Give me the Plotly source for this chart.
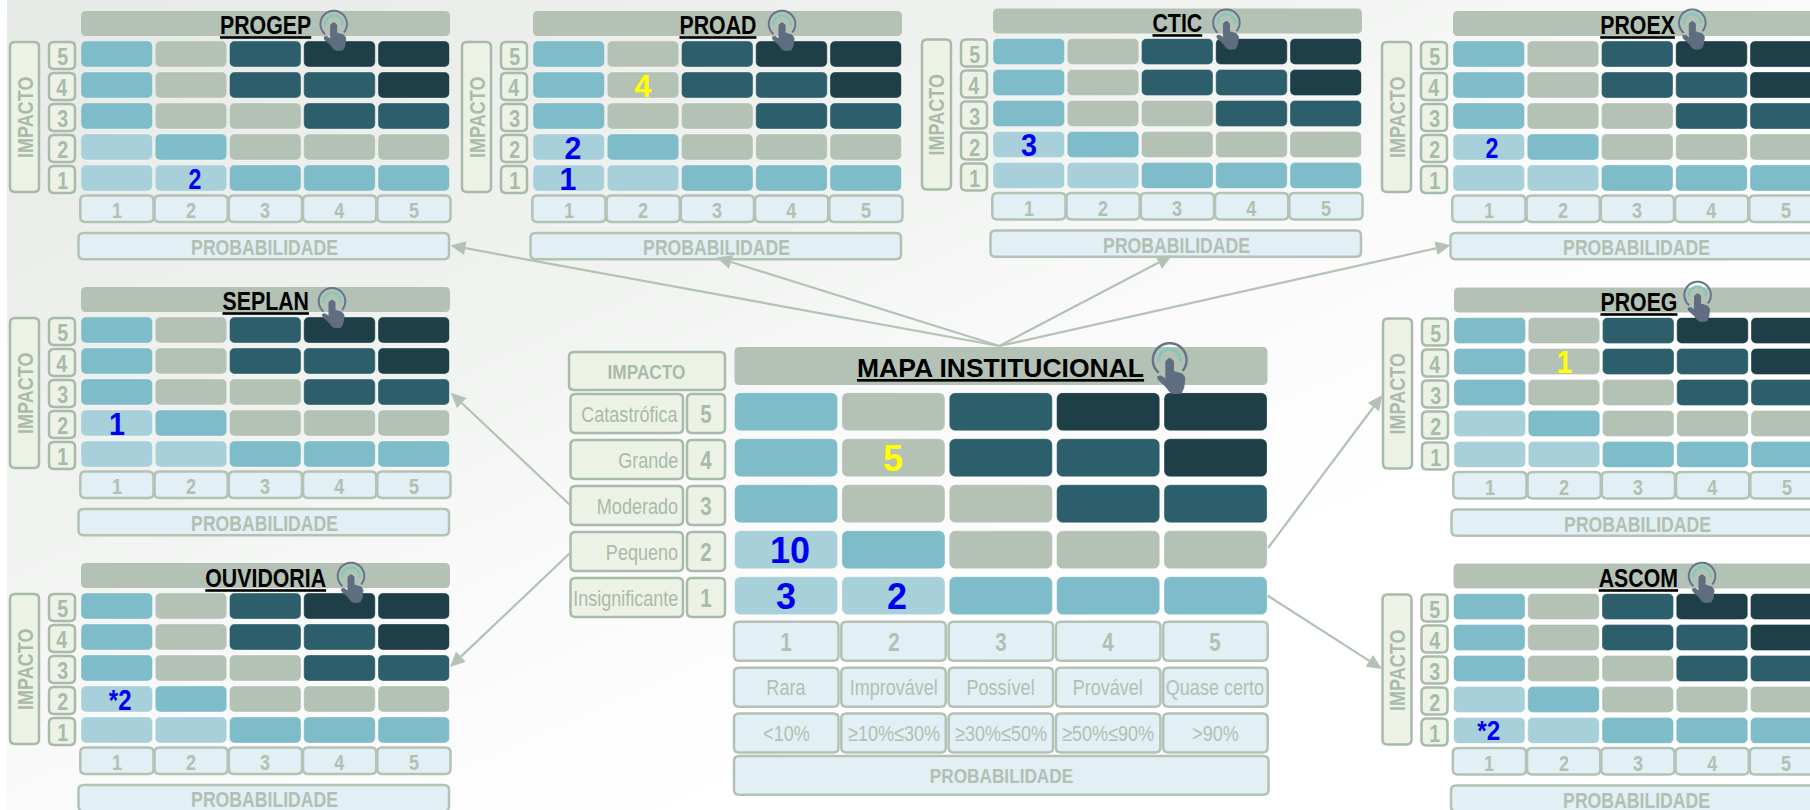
import json
import math
import plotly.graph_objects as go

W, H = 1810, 810
FONT = "Liberation Sans, Arial, sans-serif"

# risk matrix, top row is impact 5
risk_rows = [5, 4, 3, 2, 1]
risk_cols = [1, 2, 3, 4, 5]
risk_levels = [
    ["medio", "alto", "extremo", "critico", "critico"],
    ["medio", "alto", "extremo", "extremo", "critico"],
    ["medio", "alto", "alto", "extremo", "extremo"],
    ["baixo", "medio", "alto", "alto", "alto"],
    ["baixo", "baixo", "medio", "medio", "medio"],
]
level_colors = {"baixo": "#a7d0da", "medio": "#7dbcc8", "alto": "#b3c2b5",
                "extremo": "#2c5f6b", "critico": "#1e3f48"}

# counts per sector: (probabilidade, impacto, label)
counts_progep = [(2, 1, "2")]
counts_proad = [(2, 4, "4"), (1, 2, "2"), (1, 1, "1")]
counts_ctic = [(1, 2, "3")]
counts_proex = [(1, 2, "2")]
counts_seplan = [(1, 2, "1")]
counts_proeg = [(2, 4, "1")]
counts_ouvidoria = [(1, 2, "*2")]
counts_ascom = [(1, 1, "*2")]
counts_mapa = [(2, 4, "5"), (1, 2, "10"), (1, 1, "3"), (2, 1, "2")]
mapa_text_shift = [0, 4, 0, 4]

impact_names = ["Catastrófica", "Grande", "Moderado", "Pequeno", "Insignificante"]
prob_names = ["Rara", "Improvável", "Possível", "Provável", "Quase certo"]
prob_ranges = ["<10%", "≥10%≤30%", "≥30%≤50%", "≥50%≤90%", ">90%"]

# name, left, top, title centre y, icon centre x, icon centre y, counts
panels = [
    ("PROGEP", 81, 11, 25, 333.7, 24, counts_progep),
    ("PROAD", 533, 11, 25, 782, 24, counts_proad),
    ("CTIC", 993, 8.5, 23, 1226.4, 22.7, counts_ctic),
    ("PROEX", 1453, 11, 25, 1692.3, 22.7, counts_proex),
    ("SEPLAN", 81, 287, 300.5, 332, 301.3, counts_seplan),
    ("PROEG", 1454, 287.5, 301.5, 1697.6, 295, counts_proeg),
    ("OUVIDORIA", 81, 563, 577.5, 351, 576, counts_ouvidoria),
    ("ASCOM", 1453.5, 563.5, 577.5, 1702, 576, counts_ascom),
]
# text style of the counts in each small matrix: font size, side squeeze, x shift per count
count_style = {
    "PROGEP": (29, 0.8, [4]), "PROAD": (32, 0.95, [0, 4, -1]), "CTIC": (32, 0.9, [0]), "PROEX": (29, 0.8, [3]),
    "SEPLAN": (32, 0.9, [0]), "PROEG": (31, 0.9, [0]), "OUVIDORIA": (30, 0.8, [3]), "ASCOM": (27, 0.9, [0]),
}

# arrows: start, tip
arrows = [
    ((999.4, 346), (450.5, 245.5)),
    ((999.4, 346), (716.7, 257.5)),
    ((999.4, 346), (1172, 255.5)),
    ((999.4, 346), (1450.7, 245)),
    ((570, 505), (450.8, 392.7)),
    ((570, 553), (450, 667)),
    ((1268, 548), (1382.5, 395)),
    ((1267.5, 595.5), (1382, 669)),
]

GRAY = "#b3c2b5"
GRAY_TXT = "#b1c0b3"
GREEN_TXT = "#a9baab"
GREEN_BORDER = "#a8baaa"
GREEN_FILL = "#ecf3e6"
BLUE_FILL = "#e2eff4"

shapes = []
annots = []
squeezes = []
right_side = []


def rrect(x0, y0, x1, y1, fill, line=None, lw=2.5, r=5):
    path = (f"M{x0+r},{y0} L{x1-r},{y0} Q{x1},{y0} {x1},{y0+r} L{x1},{y1-r} Q{x1},{y1} {x1-r},{y1} "
            f"L{x0+r},{y1} Q{x0},{y1} {x0},{y1-r} L{x0},{y0+r} Q{x0},{y0} {x0+r},{y0} Z")
    shapes.append(dict(type="path", path=path, xref="x", yref="y", fillcolor=fill,
                       line=dict(color=line if line else fill, width=lw if line else 0), layer="above"))


def label(x, y, text, size, bold=True, color=GRAY_TXT, anchor="center", angle=0, squeeze=0.82,
          xref="x", yref="y", xshift=0, yshift=0):
    t = f"<b>{text}</b>" if bold else text
    annots.append(dict(x=x, y=y, xref=xref, yref=yref, text=t, showarrow=False, xanchor=anchor, yanchor="middle",
                       textangle=angle, xshift=xshift, yshift=yshift, font=dict(family=FONT, size=size, color=color)))
    squeezes.append(squeeze)
    right_side.append(anchor == "right")


def arc(cx, cy, r, a0, a1, color, width):
    pts = []
    for i in range(25):
        a = math.radians(a0 + (a1 - a0) * i / 24)
        pts.append(f"{cx + r*math.cos(a):.2f},{cy + r*math.sin(a):.2f}")
    shapes.append(dict(type="path", path="M" + " L".join(pts), xref="x", yref="y",
                       line=dict(color=color, width=width), layer="above"))


def icon(cx, cy, s=1.0):
    arc(cx, cy, 13.3 * s, 130, 400, "#66768a", 2 * s)
    arc(cx, cy, 8.5 * s, 170, 370, "#86c7b9", 2.4 * s)
    hand = [(-3, 1), (-1, -1), (1, -1), (3, 1), (3, 9), (10, 11), (12, 14), (11, 22), (9, 26), (3, 26.5),
            (0, 25), (-3, 21), (-9, 15.5), (-9.5, 13), (-7, 12.5), (-3, 15)]
    pts = [f"{cx + px*s:.2f},{cy + py*s:.2f}" for px, py in hand]
    shapes.append(dict(type="path", path="M" + " L".join(pts) + " Z", xref="x", yref="y", fillcolor="#5f6d80",
                       line=dict(color="#5f6d80", width=1), layer="above"))


def arrow(start, tip):
    sx, sy = start
    tx, ty = tip
    d = math.hypot(tx - sx, ty - sy)
    ux, uy = (tx - sx) / d, (ty - sy) / d
    bx, by = tx - ux * 15, ty - uy * 15
    shapes.append(dict(type="line", x0=sx, y0=sy, x1=bx, y1=by, xref="x", yref="y",
                       line=dict(color=GRAY, width=2.2), layer="above"))
    shapes.append(dict(type="path", xref="x", yref="y", fillcolor=GRAY, line=dict(width=0), layer="above",
                       path=f"M{tx},{ty} L{bx - uy*7:.2f},{by + ux*7:.2f} L{bx + uy*7:.2f},{by - ux*7:.2f} Z"))


fig = go.Figure()

# background gradient on the full page axes
fig.add_trace(go.Heatmap(x=[0, W], y=[0, H], z=[[0, 0.5], [0.5, 1]], zsmooth="best", showscale=False, hoverinfo="skip",
                         zmin=0, zmax=1, colorscale=[[0, "#e6eae6"], [0.35, "#f1f3f1"], [0.5, "#f9faf9"],
                                                     [0.7, "#ffffff"], [1, "#ffffff"]]))
shapes.append(dict(type="rect", x0=0, x1=7, y0=0, y1=H, xref="x", yref="y", fillcolor="white",
                   line=dict(width=0), layer="above"))

layout_axes = {
    "xaxis": dict(domain=[0, 1], range=[0, W], visible=False, fixedrange=True),
    "yaxis": dict(domain=[0, 1], range=[H, 0], visible=False, fixedrange=True),
}


def matrix(idx, left, top, total_w, total_h, bar_w, bar_h, radius):
    # one subplot per matrix: columns and rows are real axis values
    right = min(left + total_w, W)
    lo = 1 - bar_w / 2
    hi = 5 + bar_w / 2
    end = lo + (hi - lo) * (right - left) / total_w
    name = str(idx)
    layout_axes["xaxis" + name] = dict(domain=[left / W, right / W], range=[lo, end], visible=False,
                                       anchor="y" + name, fixedrange=True)
    layout_axes["yaxis" + name] = dict(domain=[1 - (top + total_h) / H, 1 - top / H],
                                       range=[1 - bar_h / 2, 5 + bar_h / 2], visible=False,
                                       anchor="x" + name, fixedrange=True)
    xs, bases, colors = [], [], []
    for r, row in zip(risk_rows, risk_levels):
        for c, lev in zip(risk_cols, row):
            xs.append(c)
            bases.append(r - bar_h / 2)
            colors.append(level_colors[lev])
    fig.add_trace(go.Bar(x=xs, y=[bar_h] * len(xs), base=bases, width=bar_w, hoverinfo="skip",
                         marker=dict(color=colors, cornerradius=radius,
                                     line=dict(width=1, color="rgba(255,255,255,0.35)")),
                         xaxis="x" + name, yaxis="y" + name))


def count_labels(idx, counts, size, squeeze, shifts):
    for (c, r, txt), sh in zip(counts, shifts):
        color = "#ffff00" if risk_levels[risk_rows.index(r)][c - 1] == "alto" else "#0000f0"
        label(c, r, txt, size, color=color, squeeze=squeeze, xref=f"x{idx}", yref=f"y{idx}", xshift=sh, yshift=-1)


for i, (name, x0, y0, ty, ix, iy, counts) in enumerate(panels):
    rrect(x0, y0, x0 + 369, y0 + 25, GRAY)
    label(x0 + 184.5, ty, f"<u>{name}</u>", 26, color="#000000")
    matrix(i + 2, x0, y0 + 30, 368.5, 150, 0.963, 0.84, 5)
    size, sq, sh = count_style[name]
    count_labels(i + 2, counts, size, sq, sh)
    rrect(x0 - 71, y0 + 31, x0 - 42, y0 + 181, GREEN_FILL, GREEN_BORDER)
    label(x0 - 56, y0 + 107, "IMPACTO", 22, angle=-90, color=GREEN_TXT)
    for k, r in enumerate(risk_rows):
        ry = y0 + 31 + 31 * k
        rrect(x0 - 32, ry, x0 - 6, ry + 27, GREEN_FILL, GREEN_BORDER)
        label(x0 - 19, ry + 14.5, str(r), 24, color=GREEN_TXT)
    for k, c in enumerate(risk_cols):
        cx = x0 - 0.7 + 74.25 * k
        rrect(cx, y0 + 184.5, cx + 73.2, y0 + 211, BLUE_FILL, GRAY)
        label(cx + 36.6, y0 + 199.5, str(c), 22)
    rrect(x0 - 2.5, y0 + 222, x0 + 368, y0 + 248.3, BLUE_FILL, GRAY)
    label(x0 + 183, y0 + 237, "PROBABILIDADE", 21.5)
    icon(ix, iy)

# central map
rrect(734.5, 347, 1267.5, 385, GRAY)
label(1000.5, 367.5, "<u>MAPA INSTITUCIONAL</u>", 26.5, color="#000000", squeeze=1)
matrix(10, 734.5, 392.7, 532.6, 222, 0.96, 0.826, 6)
count_labels(10, counts_mapa, 36, 1, mapa_text_shift)
rrect(569, 352, 725, 390, GREEN_FILL, GREEN_BORDER)
label(646, 371, "IMPACTO", 21, color=GREEN_TXT)
for k, (r, nm) in enumerate(zip(risk_rows, impact_names)):
    ry = 394 + 46 * k
    rrect(570.5, ry, 683, ry + 39, GREEN_FILL, GREEN_BORDER)
    rrect(687, ry, 725, ry + 39, GREEN_FILL, GREEN_BORDER)
    label(680, ry + 20, nm, 22, bold=False, anchor="right", color=GREEN_TXT)
    label(706, ry + 20, str(r), 25, color=GREEN_TXT)
for k, c in enumerate(risk_cols):
    cx = 734 + 107.3 * k
    for top, txt, bold, size in [(621.7, str(c), True, 25), (667.7, prob_names[k], False, 22),
                                 (713.5, prob_ranges[k], False, 22)]:
        rrect(cx, top, cx + 104.5, top + 39, BLUE_FILL, GRAY)
        label(cx + 52.2, top + 20, txt, size, bold=bold)
rrect(734, 756, 1268.5, 794.7, BLUE_FILL, GRAY)
label(1001, 775, "PROBABILIDADE", 21)
icon(1169.7, 360, 1.27)

for start, tip in arrows:
    arrow(start, tip)

fig.update_layout(width=W, height=H, margin=dict(l=0, r=0, t=0, b=0), showlegend=False, barmode="overlay",
                  paper_bgcolor="white", plot_bgcolor="rgba(0,0,0,0)", shapes=shapes, annotations=annots,
                  **layout_axes)

# no narrow face is installed, so squeeze the text sideways the way the original font looks
squeeze_js = """
document.body.style.margin='0';document.body.style.overflow='hidden';
var squeezes = %s, rightSide = %s;
document.querySelectorAll('.annotation').forEach(function(g){
  var i = +g.getAttribute('data-index');
  var t = g.querySelector('.annotation-text');
  if (!t || squeezes[i] === 1) return;
  var b = t.getBBox();
  var c = rightSide[i] ? b.x + b.width : b.x + b.width / 2;
  t.setAttribute('transform', 'translate(' + c + ',0) scale(' + squeezes[i] + ',1) translate(' + (-c) + ',0)');
});
""" % (json.dumps(squeezes), json.dumps(right_side))

fig.write_html("out.html", config=dict(displayModeBar=False), post_script=squeeze_js)
